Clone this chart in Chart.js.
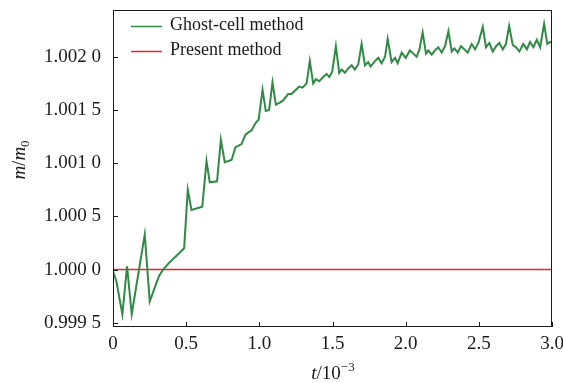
<!DOCTYPE html>
<html>
<head>
<meta charset="utf-8">
<script src="https://cdn.jsdelivr.net/npm/chart.js@4"></script>
<style>
html,body{margin:0;padding:0;background:#fff;}
#wrap{width:563px;height:383px;}
</style>
</head>
<body>
<div id="wrap"><canvas id="c" width="563" height="383"></canvas></div>
<script>
// ---- data ----
const tGhost = [0, 0.023, 0.064, 0.096, 0.128, 0.217, 0.251, 0.285, 0.315, 0.342, 0.388, 0.434, 0.486,
  0.511, 0.536, 0.610, 0.639, 0.661, 0.711, 0.737, 0.764, 0.810, 0.837, 0.878, 0.906, 0.947, 0.975, 0.995,
  1.022, 1.044, 1.067, 1.090, 1.113, 1.140, 1.163, 1.197, 1.220, 1.250, 1.272, 1.295, 1.323, 1.345, 1.368,
  1.387, 1.409, 1.436, 1.460, 1.478, 1.498, 1.523, 1.546, 1.562, 1.585, 1.607, 1.631, 1.653, 1.676, 1.699,
  1.722, 1.744, 1.760, 1.790, 1.813, 1.836, 1.859, 1.877, 1.904, 1.927, 1.945, 1.973, 2.000, 2.029, 2.052,
  2.075, 2.094, 2.116, 2.139, 2.155, 2.178, 2.200, 2.223, 2.246, 2.269, 2.292, 2.315, 2.333, 2.356, 2.378,
  2.401, 2.424, 2.451, 2.474, 2.497, 2.527, 2.549, 2.572, 2.595, 2.618, 2.640, 2.664, 2.685, 2.707, 2.732,
  2.754, 2.777, 2.804, 2.828, 2.850, 2.873, 2.896, 2.919, 2.946, 2.968, 2.987, 3.000];
const mGhost = [0.999984, 0.99989, 0.99958, 1.00003, 0.99958, 1.00033, 0.99970, 0.99983, 0.99994, 1.00000, 1.00007, 1.00013, 1.00020,
  1.00075, 1.00056, 1.00059, 1.00102, 1.00082, 1.00083, 1.00122, 1.00101, 1.00103, 1.00115, 1.00118, 1.00127, 1.00131, 1.00138, 1.00141,
  1.00169, 1.00149, 1.00150, 1.00176, 1.00155, 1.00157, 1.00159, 1.00165, 1.00165, 1.00169, 1.00172, 1.00171, 1.00175, 1.00196, 1.00175,
  1.00179, 1.00177, 1.00181, 1.00184, 1.00181, 1.00186, 1.00210, 1.00185, 1.00188, 1.00185, 1.00189, 1.00192, 1.00188, 1.00193, 1.00212,
  1.00192, 1.00195, 1.00191, 1.00196, 1.00199, 1.00194, 1.00200, 1.00217, 1.00195, 1.00199, 1.00194, 1.00204, 1.00199, 1.00206, 1.00203,
  1.00200, 1.00207, 1.00223, 1.00203, 1.00206, 1.00202, 1.00206, 1.00209, 1.00204, 1.00210, 1.00224, 1.00205, 1.00208, 1.00204, 1.00210,
  1.00207, 1.00204, 1.00212, 1.00207, 1.00213, 1.00228, 1.00209, 1.00213, 1.00205, 1.00210, 1.00213, 1.00207, 1.00212, 1.00229, 1.00211,
  1.00209, 1.00205, 1.00212, 1.00207, 1.00214, 1.00209, 1.00216, 1.00209, 1.00231, 1.00212, 1.00214, 1.00213];
const tPresent = [0, 3.0];
const mPresent = [1.0, 1.0];
const seriesNames = ["Ghost-cell method", "Present method"];
const xTickValues = [0, 0.5, 1.0, 1.5, 2.0, 2.5, 3.0];
const xTickLabels = ["0", "0.5", "1.0", "1.5", "2.0", "2.5", "3.0"];
const yTickValues = [0.9995, 1.0000, 1.0005, 1.0010, 1.0015, 1.0020];
const yTickLabels = ["0.999 5", "1.000 0", "1.000 5", "1.001 0", "1.001 5", "1.002 0"];

const GREEN = "#2f8a45";
const RED = "#e8262a";
const FONT = "'Liberation Serif', 'Times New Roman', serif";
const INK = "#1a1a1a";

const deco = {
  id: "deco",
  afterDraw(chart) {
    const ctx = chart.ctx, a = chart.chartArea;
    const xs = chart.scales.x, ys = chart.scales.y;
    ctx.save();
    ctx.strokeStyle = INK;
    ctx.lineWidth = 1;
    ctx.strokeRect(Math.round(a.left) + 0.5, Math.round(a.top) + 0.5,
                   Math.round(a.right - a.left) - 1, Math.round(a.bottom - a.top) - 1);
    ctx.beginPath();
    yTickValues.forEach(v => {
      const p = Math.round(ys.getPixelForValue(v)) + 0.5;
      ctx.moveTo(a.left, p); ctx.lineTo(a.left + 5, p);
    });
    xTickValues.forEach(v => {
      const p = Math.round(xs.getPixelForValue(v)) + 0.5;
      ctx.moveTo(p, a.bottom); ctx.lineTo(p, a.bottom - 5);
    });
    ctx.stroke();

    // legend
    ctx.textBaseline = "middle";
    ctx.textAlign = "left";
    ctx.font = "18px " + FONT;
    const items = [[seriesNames[0], GREEN, 25.5], [seriesNames[1], RED, 50.5]];
    items.forEach(([name, col, y]) => {
      ctx.strokeStyle = col; ctx.lineWidth = 1.5;
      ctx.beginPath(); ctx.moveTo(131, y + 1); ctx.lineTo(162, y + 1); ctx.stroke();
      ctx.fillStyle = INK;
      ctx.fillText(name, 170, y);
    });

    // x title: t/10^-3
    ctx.textBaseline = "alphabetic";
    const parts = [["italic 19px " + FONT, "t", 0], ["19px " + FONT, "/10", 0], ["13px " + FONT, "\u22123", -8]];
    let w = 0;
    parts.forEach(p => { ctx.font = p[0]; w += ctx.measureText(p[1]).width; });
    let x = 333 - w / 2;
    parts.forEach(p => { ctx.font = p[0]; ctx.fillText(p[1], x, 379 + p[2]); x += ctx.measureText(p[1]).width; });

    // y title: m/m0 rotated
    ctx.translate(25, 160);
    ctx.rotate(-Math.PI / 2);
    const yp = [["italic 19px " + FONT, "m", 0], ["19px " + FONT, "/", 0], ["italic 19px " + FONT, "m", 0], ["13px " + FONT, "0", 4]];
    w = 0;
    yp.forEach(p => { ctx.font = p[0]; w += ctx.measureText(p[1]).width; });
    x = -w / 2;
    yp.forEach(p => { ctx.font = p[0]; ctx.fillText(p[1], x, p[2]); x += ctx.measureText(p[1]).width; });
    ctx.restore();
  }
};

new Chart(document.getElementById("c"), {
  type: "line",
  data: {
    datasets: [
      { label: seriesNames[0], data: tGhost.map((t, i) => ({ x: t, y: mGhost[i] })),
        borderColor: GREEN, borderWidth: 2, pointRadius: 0, tension: 0, fill: false },
      { label: seriesNames[1], data: tPresent.map((t, i) => ({ x: t, y: mPresent[i] })),
        borderColor: RED, borderWidth: 1.6, pointRadius: 0, tension: 0, fill: false }
    ]
  },
  options: {
    responsive: false,
    animation: false,
    devicePixelRatio: 1,
    layout: { padding: { left: 0, top: 10, right: 11, bottom: 0 } },
    plugins: { legend: { display: false }, tooltip: { enabled: false } },
    scales: {
      x: {
        type: "linear", min: 0, max: 3.0,
        afterBuildTicks: s => { s.ticks = xTickValues.map(v => ({ value: v })); },
        afterFit: s => { s.height = 56; s.paddingLeft = 0; s.paddingRight = 0; },
        grid: { display: true, drawOnChartArea: false, drawTicks: false },
        border: { display: false },
        ticks: { padding: 6, color: INK, font: { family: FONT, size: 19 },
                 maxRotation: 0, autoSkip: false,
                 callback: (v) => { const i = xTickValues.indexOf(v); return i >= 0 ? xTickLabels[i] : ""; } }
      },
      y: {
        type: "linear", min: 0.99946, max: 1.00244,
        afterBuildTicks: s => { s.ticks = yTickValues.map(v => ({ value: v })); },
        afterFit: s => { s.width = 113; s.paddingTop = 0; s.paddingBottom = 0; },
        grid: { display: true, drawOnChartArea: false, drawTicks: false },
        border: { display: false },
        ticks: { padding: 12, color: INK, font: { family: FONT, size: 19 }, autoSkip: false,
                 callback: (v) => { const i = yTickValues.findIndex(u => Math.abs(u - v) < 1e-9); return i >= 0 ? yTickLabels[i] : ""; } }
      }
    }
  },
  plugins: [deco]
});
</script>
</body>
</html>
